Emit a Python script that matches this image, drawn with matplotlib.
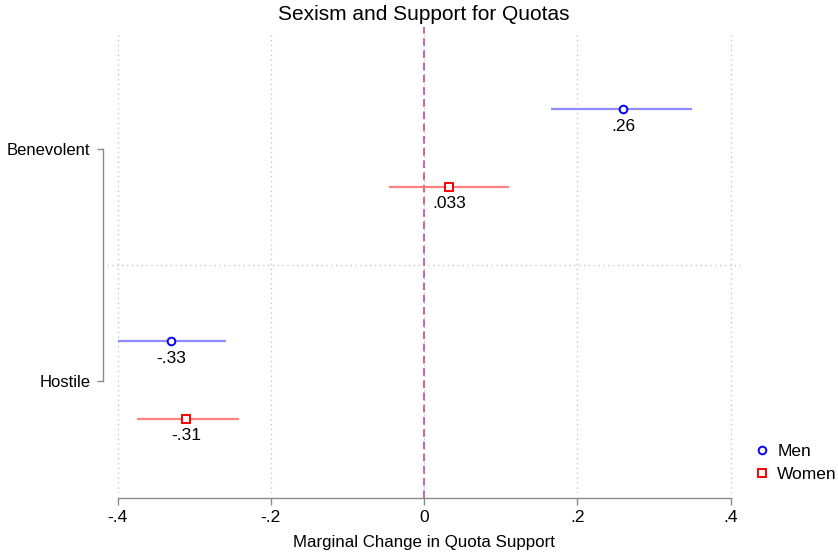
import matplotlib
matplotlib.use("Agg")
import matplotlib.pyplot as plt
from matplotlib.lines import Line2D

plt.rcParams['font.family'] = ['Liberation Sans', 'DejaVu Sans']

# data
groups = ['Benevolent', 'Hostile']
men_est = [0.26, -0.33]
men_lo = [0.166, -0.400]
men_hi = [0.350, -0.258]
women_est = [0.033, -0.31]
women_lo = [-0.046, -0.375]
women_hi = [0.111, -0.242]
men_lbl = ['.26', '-.33']
women_lbl = ['.033', '-.31']
xticks = [-0.4, -0.2, 0, 0.2, 0.4]
xticklabels = ['-.4', '-.2', '0', '.2', '.4']

fig = plt.figure(figsize=(8.38, 5.53), dpi=100)
ax = fig.add_axes([0.1277, 0.1085, 0.759, 0.8336])

ypos = list(range(len(groups)))
men_y = [y - 0.172 for y in ypos]
women_y = [y + 0.162 for y in ypos]

grid_kw = dict(color='#c8c8c8', lw=1, ls=(0, (1, 2.5)), zorder=0)
for xt in xticks:
    ax.axvline(xt, **grid_kw)
ax.axhline(0.5, **grid_kw)

ax.axvline(0, ymin=-0.01, ymax=1.01, color='#c0407a', lw=1.1,
           ls=(0, (5, 3)), clip_on=False, zorder=1)

ax.hlines(men_y, men_lo, men_hi, color='#8c8cff', lw=1.6, zorder=2)
ax.hlines(women_y, women_lo, women_hi, color='#ff8080', lw=1.6, zorder=2)
mk = dict(mfc='white', ms=5.5, mew=1.4, ls='none')
ax.plot(men_est, men_y, 'o', mec='#0000ff', zorder=3, **mk)
ax.plot(women_est, women_y, 's', mec='#ff0000', zorder=3, **mk)

for x, y, t in zip(men_est + women_est, men_y + women_y, men_lbl + women_lbl):
    ax.annotate(t, (x, y), xytext=(0, -12.5), textcoords='offset points',
                ha='center', va='center', fontsize=12.5)

ax.set_xlim(-0.4137, 0.4163)
ax.set_ylim(1.483, -0.504)
ax.set_xticks(xticks)
ax.set_xticklabels(xticklabels)
ax.set_yticks(ypos)
ax.set_yticklabels(groups)

for s in ['top', 'right']:
    ax.spines[s].set_visible(False)
for s in ['bottom', 'left']:
    ax.spines[s].set_color('#8a8a8a')
    ax.spines[s].set_linewidth(1)
ax.spines['bottom'].set_bounds(-0.4, 0.4)
ax.spines['bottom'].set_position(('outward', 3.5))
ax.spines['left'].set_bounds(0, 1)
ax.spines['left'].set_position(('outward', 3))
ax.tick_params(axis='x', length=5, width=1, color='#8a8a8a', pad=3.5,
               labelsize=12.5)
ax.tick_params(axis='y', length=4, width=1, color='#8a8a8a', pad=5,
               labelsize=12)

fig.text(424 / 838, 1 - 14 / 553, 'Sexism and Support for Quotas',
         ha='center', va='center', fontsize=15)
fig.text(424 / 838, 1 - 543 / 553, 'Marginal Change in Quota Support',
         ha='center', va='center', fontsize=12.2)

handles = [
    Line2D([], [], marker='o', mec='#0000ff', **mk),
    Line2D([], [], marker='s', mec='#ff0000', **mk),
]
fig.legend(handles, ['Men', 'Women'], loc='center left',
           bbox_to_anchor=(753 / 838, 1 - 463 / 553), frameon=False,
           fontsize=12.5, handlelength=1.0, handletextpad=0.4,
           labelspacing=0.45, borderaxespad=0, borderpad=0)

fig.savefig('out.png', dpi=100)
